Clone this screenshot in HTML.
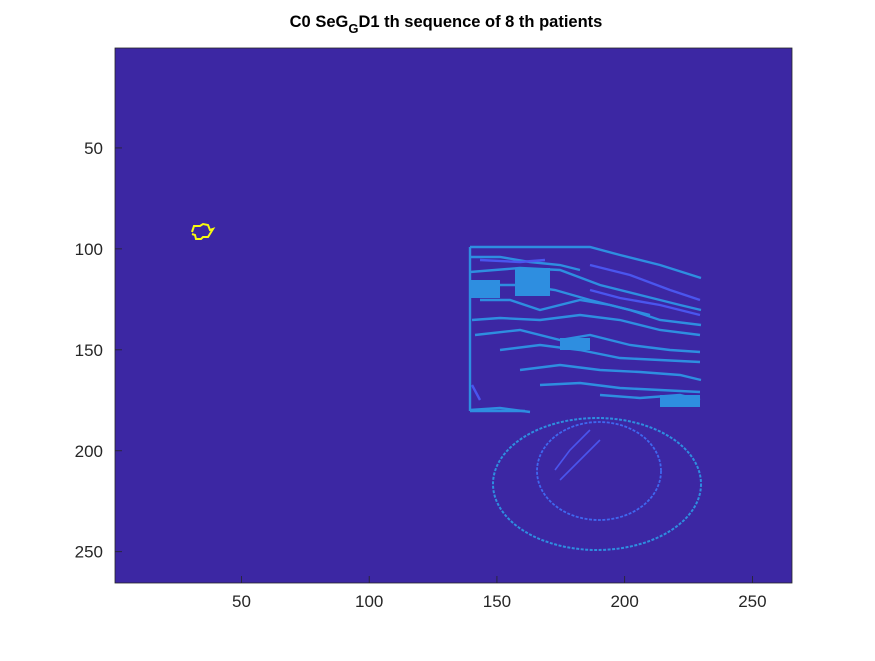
<!DOCTYPE html>
<html><head><meta charset="utf-8"><style>
body{margin:0;background:#fff;}
svg text{font-family:"Liberation Sans",Arial,sans-serif;}
</style></head><body>
<svg id="c" width="875" height="656" xmlns="http://www.w3.org/2000/svg">
<rect width="875" height="656" fill="#fff"/>
<text x="446" y="27" text-anchor="middle" font-size="16.5" font-weight="bold">C0 SeG<tspan font-size="13" dy="6">G</tspan><tspan dy="-6">D1 th sequence of 8 th patients</tspan></text>
<rect x="115" y="48" width="677" height="535" fill="#3c27a3"/>
<g id="img" fill="none" stroke-width="2.4">
<g stroke="#2e8ee0">
<polyline points="470,247 590,247 620,255 660,265 701,278"/>
<line x1="470" y1="247" x2="470" y2="411"/>
<line x1="470" y1="411" x2="525" y2="411"/>
<ellipse cx="597" cy="484" rx="104" ry="66" stroke-width="2" stroke-dasharray="3 1.5"/>
<polyline points="470,257 500,257 530,262 560,265 580,270"/>
<polyline points="470,272 520,268 560,270 600,285 640,295 680,305 701,310"/>
<polyline points="475,285 520,285 555,290 590,300 630,310 660,320 701,325"/>
<polyline points="480,300 510,300 540,310 580,300 610,305 650,315"/>
<polyline points="472,320 500,318 540,320 580,315 620,320 660,330 700,335"/>
<polyline points="475,335 520,330 560,340 590,335 630,345 670,350 700,352"/>
<polyline points="500,350 540,345 580,350 620,358 660,360 700,362"/>
<polyline points="520,370 560,365 600,370 640,372 680,375 701,380"/>
<polyline points="540,385 580,383 620,388 660,390 700,392"/>
<polyline points="600,395 640,398 680,395 700,400"/>
<polyline points="470,410 500,408 530,412"/>
<path d="M515,268h35v28h-35z M470,280h30v18h-30z M560,338h30v12h-30z M660,395h40v12h-40z M640,230h0" fill="#2e8ee0" stroke="none"/>
</g>
<g stroke="#4a55ee">
<polyline points="590,265 630,275 670,290 700,300"/>
<polyline points="590,290 620,298 660,305 700,315"/>
<polyline points="480,260 520,262 545,260"/>
<polyline points="555,470 570,450 590,430" stroke-width="1.6"/>
<polyline points="560,480 580,460 600,440" stroke-width="1.6"/>
<polyline points="472,385 480,400"/>
</g>
<g stroke="#3f68f0" stroke-width="1.8">
<ellipse cx="599" cy="471" rx="62" ry="49" stroke-dasharray="3 1.5"/>
</g>
</g>
<polyline points="192,232 194,226 200,226 203,224 208,225 210,230 213,229 208,237 203,237 201,239 196,239 195,235 192,234" fill="none" stroke="#f9fb0e" stroke-width="2"/>
<rect x="115" y="48" width="677" height="535" fill="none" stroke="#262626" stroke-width="0.8"/>
<g id="ticks"></g>
</svg>
<script>
const xTicks=[50,100,150,200,250];
const yTicks=[50,100,150,200,250];
const nCols=265, nRows=265;
const X0=115,X1=792,Y0=48,Y1=583;
function sx(u){return X0+(u-0.5)*(X1-X0)/nCols;}
function sy(v){return Y0+(v-0.5)*(Y1-Y0)/nRows;}
const g=document.getElementById('ticks');
const NS='http://www.w3.org/2000/svg';
xTicks.forEach(t=>{
 const l=document.createElementNS(NS,'line');
 l.setAttribute('x1',sx(t));l.setAttribute('x2',sx(t));l.setAttribute('y1',Y1);l.setAttribute('y2',Y1-7);
 l.setAttribute('stroke','#262626');l.setAttribute('stroke-width','0.8');
 
 
 g.appendChild(l);
 const tx=document.createElementNS(NS,'text');
 tx.setAttribute('x',sx(t));tx.setAttribute('y',Y1+24);tx.setAttribute('text-anchor','middle');
 tx.setAttribute('font-size','17');tx.setAttribute('fill','#262626');tx.textContent=t;
 
 
 g.appendChild(tx);
});
yTicks.forEach(t=>{
 const l=document.createElementNS(NS,'line');
 l.setAttribute('x1',X0);l.setAttribute('x2',X0+7);l.setAttribute('y1',sy(t));l.setAttribute('y2',sy(t));
 l.setAttribute('stroke','#262626');l.setAttribute('stroke-width','0.8');
 
 
 g.appendChild(l);
 const tx=document.createElementNS(NS,'text');
 tx.setAttribute('x',X0-12);tx.setAttribute('y',sy(t)+6);tx.setAttribute('text-anchor','end');
 tx.setAttribute('font-size','17');tx.setAttribute('fill','#262626');tx.textContent=t;
 
 
 g.appendChild(tx);
});
</script>
</body></html>
